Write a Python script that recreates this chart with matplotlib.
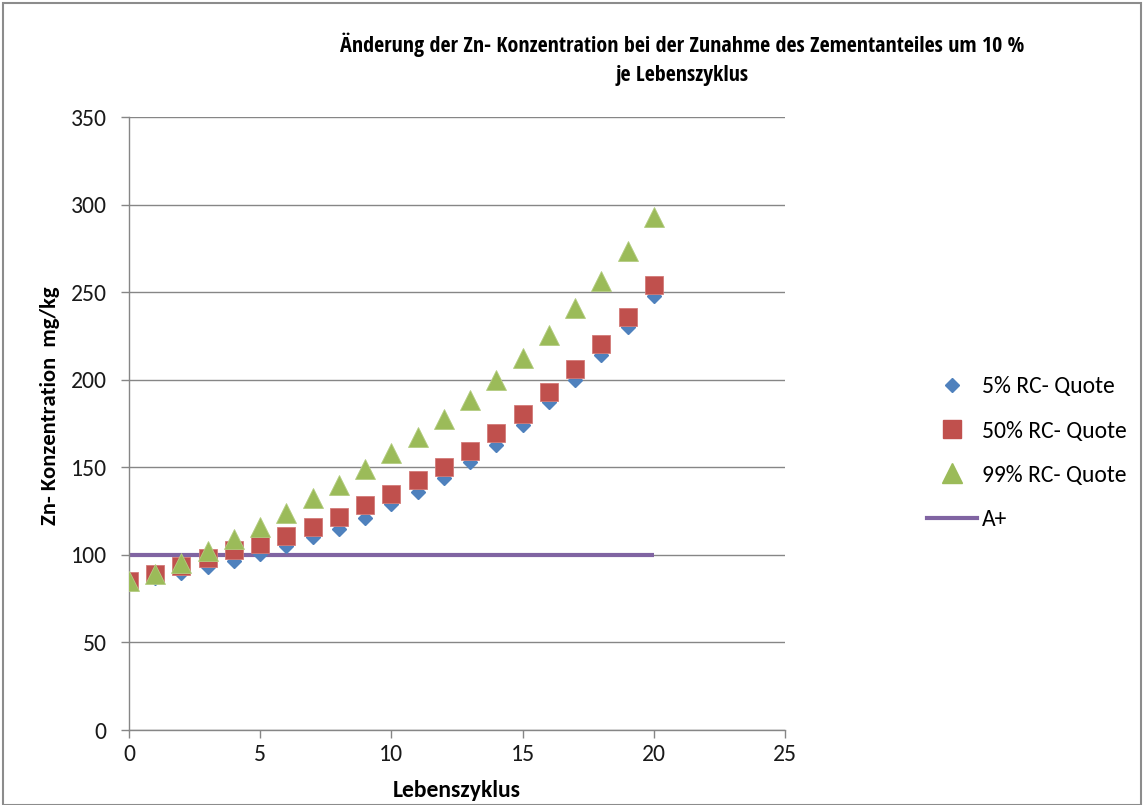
import matplotlib
matplotlib.use("Agg")
import matplotlib.pyplot as plt
from matplotlib.lines import Line2D
from matplotlib.patches import Rectangle

plt.rcParams['font.family'] = ['Carlito', 'DejaVu Sans']

# Data
zyklus = list(range(0, 21))
rc_5 = [84, 87, 89.5, 93, 96.5, 100.5, 105, 110, 115, 121, 129, 136, 144, 153,
        163, 174, 187, 200, 214, 230, 248]
rc_50 = [85, 89, 93.5, 98, 102.5, 106, 111, 116, 121.5, 128.5, 135, 142.5, 150,
         159.5, 169.5, 180.5, 193, 206, 220.5, 236, 254]
rc_99 = [85, 89, 95.5, 102, 109, 116, 124, 132.5, 140, 149, 158, 167.5, 177.5,
         188.5, 200, 212.5, 225.5, 241, 256.5, 273.5, 293]
a_plus_x = [0, 20]
a_plus_y = [100, 100]

labels = ['5% RC- Quote', '50% RC- Quote', '99% RC- Quote', 'A+']
x_ticks = [0, 5, 10, 15, 20, 25]
y_ticks = [0, 50, 100, 150, 200, 250, 300, 350]

blue = '#4F81BD'
red = '#C0504D'
green = '#9BBB59'
purple = '#8064A2'
grid_c = '#868686'

W, H = 1144, 805
fig = plt.figure(figsize=(W / 100, H / 100), dpi=100)
ax = fig.add_axes([129 / W, 1 - 730 / H, (785 - 129) / W, (730 - 117) / H])

ax.plot(a_plus_x, a_plus_y, color=purple, lw=3.0, solid_capstyle='butt', zorder=2)
ax.plot(zyklus, rc_5, ls='none', marker='D', ms=7, color=blue,
        markeredgecolor=blue, zorder=3)
ax.plot(zyklus, rc_50, ls='none', marker='s', ms=13, color=red,
        markeredgecolor='#D27A78', markeredgewidth=0.6, zorder=4)
ax.plot(zyklus, rc_99, ls='none', marker='^', ms=14, color=green,
        markeredgecolor='#B3CC80', markeredgewidth=0.6, zorder=5)

ax.set_xlim(0, 25)
ax.set_ylim(0, 350)
ax.set_xticks(x_ticks)
ax.set_yticks(y_ticks)
ax.yaxis.grid(True, color=grid_c, lw=1.0)
ax.set_axisbelow(True)
for s in ['top', 'right']:
    ax.spines[s].set_visible(False)
for s in ['left', 'bottom']:
    ax.spines[s].set_color(grid_c)
    ax.spines[s].set_linewidth(1.0)
ax.tick_params(axis='both', colors=grid_c, labelcolor='#1a1a1a', labelsize=17,
               length=6, width=1.0, direction='out')
ax.tick_params(axis='x', pad=4)
ax.tick_params(axis='y', pad=10)
ax.margins(0)

ax.set_xlabel('Lebenszyklus', fontsize=17, fontweight='bold')
ax.xaxis.set_label_coords(0.5, -0.0816)
ax.set_ylabel('Zn- Konzentration  mg/kg', fontsize=16.3, fontweight='bold')
ax.yaxis.set_label_coords(-0.105, 0.5286)

cond = ['Open Sans Condensed', 'Carlito', 'DejaVu Sans']
title_x = 0.5 * (342 + 1022) / W
fig.text(title_x, 1 - 45 / H,
         'Änderung der Zn- Konzentration bei der Zunahme des Zementanteiles um 10 %',
         ha='center', va='center', fontsize=15.8, fontweight='bold', family=cond)
fig.text(title_x, 1 - 75 / H, 'je Lebenszyklus',
         ha='center', va='center', fontsize=15.8, fontweight='bold', family=cond)

# Legend
handles = [
    Line2D([], [], ls='none', marker='D', ms=7, color=blue),
    Line2D([], [], ls='none', marker='s', ms=13, color=red),
    Line2D([], [], ls='none', marker='^', ms=14, color=green),
    Line2D([], [], color=purple, lw=3.0),
]
fig.legend(handles, labels, loc='upper left', bbox_to_anchor=(918 / W, 1 - 367 / H),
           frameon=False, fontsize=17, labelspacing=0.98, handlelength=2.1,
           handletextpad=0.2, borderaxespad=0)

# Chart border
fig.add_artist(Rectangle((3 / W, 0), (W - 6) / W, 1 - 3 / H, transform=fig.transFigure,
                         fill=False, edgecolor='#8c8c8c', lw=1.5))

fig.savefig('out.png', dpi=100)
